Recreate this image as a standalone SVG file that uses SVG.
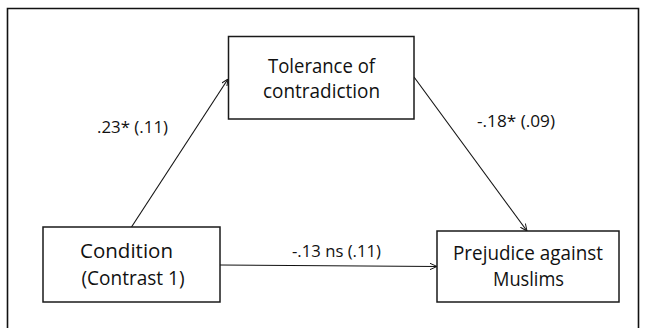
<svg xmlns="http://www.w3.org/2000/svg" width="646" height="328" viewBox="0 0 646 328">
<style>
.node{fill:#fff;stroke:#1a1a1a;stroke-width:1.5}
.t{font-family:"Open Sans","Liberation Sans",sans-serif;font-size:20px;fill:#111}
.l{font-family:"Open Sans","Liberation Sans",sans-serif;font-size:15.5px;fill:#111}
.c{stroke:#111;stroke-width:1.1;fill:none;marker-end:url(#ah)}
</style>
<defs>
<marker id="ah" viewBox="0 0 10 10" refX="10" refY="5" markerWidth="7" markerHeight="7" markerUnits="userSpaceOnUse" orient="auto">
<path d="M0,0.5 L10,5 L0,9.5" fill="none" stroke="#111" stroke-width="1.4"/>
</marker>
</defs>
<rect width="646" height="328" fill="#fff"/>
<path d="M7.5,330 V8.5 H638.5 V330" fill="none" stroke="#111" stroke-width="1.6"/>
<g id="connectors">
<line class="c" x1="131.5" y1="227" x2="228" y2="79"/>
<line class="c" x1="414" y1="77" x2="527" y2="231"/>
<line class="c" x1="220" y1="265" x2="437" y2="266.5"/>
<text class="l" x="97" y="133" textLength="71" lengthAdjust="spacingAndGlyphs">.23* (.11)</text>
<text class="l" x="477" y="127" textLength="78" lengthAdjust="spacingAndGlyphs">-.18* (.09)</text>
<text class="l" x="292" y="257" textLength="89" lengthAdjust="spacingAndGlyphs">-.13 ns (.11)</text>
</g>
<g id="tolerance">
<rect class="node" x="228.5" y="36.5" width="185.5" height="82.5"/>
<text class="t" x="268" y="72.5" textLength="107" lengthAdjust="spacingAndGlyphs">Tolerance of</text>
<text class="t" x="263" y="98" textLength="117" lengthAdjust="spacingAndGlyphs">contradiction</text>
</g>
<g id="condition">
<rect class="node" x="43" y="227" width="177" height="75"/>
<text class="t" x="80" y="258" textLength="93" lengthAdjust="spacingAndGlyphs">Condition</text>
<text class="t" x="81.5" y="284.5" textLength="103" lengthAdjust="spacingAndGlyphs">(Contrast 1)</text>
</g>
<g id="prejudice">
<rect class="node" x="437" y="231" width="182" height="71"/>
<text class="t" x="453" y="260" textLength="150" lengthAdjust="spacingAndGlyphs">Prejudice against</text>
<text class="t" x="493" y="285.5" textLength="71" lengthAdjust="spacingAndGlyphs">Muslims</text>
</g>
</svg>
